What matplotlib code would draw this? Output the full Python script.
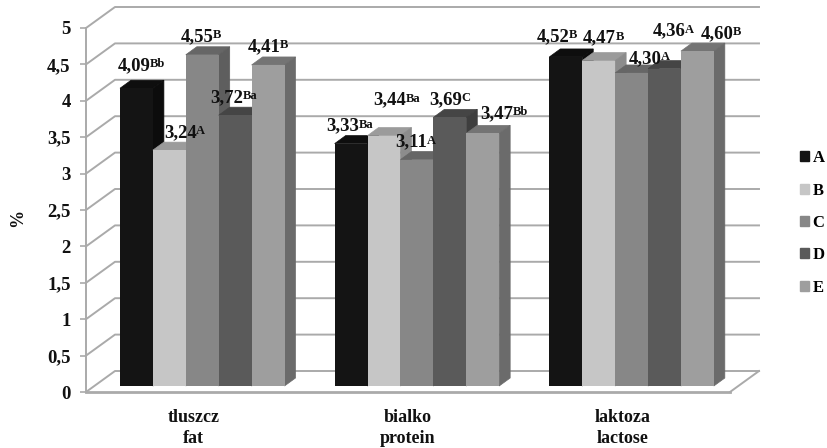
import matplotlib
matplotlib.use('Agg')
import matplotlib.pyplot as plt
from matplotlib.patches import Patch

plt.rcParams['font.family'] = ['Liberation Serif', 'DejaVu Serif']
plt.rcParams['font.weight'] = 'bold'

######################################################
# Data
categories = ['tluszcz\nfat', 'bialko\nprotein', 'laktoza\nlactose']
groups = ['A', 'B', 'C', 'D', 'E']
values_a = [4.09, 3.33, 4.52]
values_b = [3.24, 3.44, 4.47]
values_c = [4.55, 3.11, 4.30]
values_d = [3.72, 3.69, 4.36]
values_e = [4.41, 3.47, 4.60]
marks_a = ['Bb', 'Ba', 'B']
marks_b = ['A', 'Ba', 'B']
marks_c = ['B', 'A', 'A']
marks_d = ['Ba', 'C', 'A']
marks_e = ['B', 'Bb', 'B']
yticks = [0, 0.5, 1, 1.5, 2, 2.5, 3, 3.5, 4, 4.5, 5]
ytick_labels = ['0', '0,5', '1', '1,5', '2', '2,5', '3', '3,5', '4', '4,5', '5']

series = [values_a, values_b, values_c, values_d, values_e]
marks = [marks_a, marks_b, marks_c, marks_d, marks_e]

# colours per series: front, top, side
front = ['#141414', '#c6c6c6', '#878787', '#5a5a5a', '#9e9e9e']
top = ['#0e0e0e', '#9b9b9b', '#666666', '#454545', '#747474']
side = ['#0c0c0c', '#8c8c8c', '#5e5e5e', '#3e3e3e', '#6b6b6b']
grid_col = '#aaaaaa'

# label shifts in pixels from the top left corner of each bar: (right, up)
label_shift = [
    [(-2, 18), (-8, 13), (-13, 16)],
    [(11, 13), (6, 31), (1, 18)],
    [(-5, 14), (-5, 13), (14, 10)],
    [(-8, 13), (-4, 13), (5, 33)],
    [(-4, 14), (14, 15), (20, 13)],
]

W, H = 827, 448
fig = plt.figure(figsize=(W / 100, H / 100), dpi=100)
ax = fig.add_axes([86 / W, (H - 392) / H, 644 / W, 364 / H])
ax.set_xlim(0, 3)
ax.set_ylim(0, 5)

# pixel sizes in data units
px_x = 3 / 644
px_y = 5 / 364

######################################################
# Walls and floor
wall_dx = 29 * px_x
wall_dy = 21 * px_y
for t in yticks:
    ax.plot([0, wall_dx, 3 + wall_dx], [t, t + wall_dy, t + wall_dy],
            color=grid_col, lw=1.4, clip_on=False, zorder=1)
ax.plot([3, 3 + wall_dx], [0, wall_dy], color=grid_col, lw=1.4, clip_on=False, zorder=1)

######################################################
# Bars, each one a front face with a top and a side
bar_w = 32.9 * px_x
start = 34 * px_x
floor = 6 * px_y
depth_x = 11 * px_x
depth_y = 8 * px_y

for i, vals in enumerate(series):
    for c, v in enumerate(vals):
        x0 = c + start + i * bar_w
        x1 = x0 + bar_w
        y1 = floor + v
        z = 3 + i
        # thin edge of the same colour closes the gaps between faces
        ax.fill([x0, x1, x1 + depth_x, x0 + depth_x], [y1, y1, y1 + depth_y, y1 + depth_y],
                fc=top[i], ec=top[i], lw=0.5, clip_on=False, zorder=z)
        ax.fill([x1, x1 + depth_x, x1 + depth_x, x1], [floor, floor + depth_y, y1 + depth_y, y1],
                fc=side[i], ec=side[i], lw=0.5, clip_on=False, zorder=z)
        ax.bar(x0, v, width=bar_w, bottom=floor, align='edge', color=front[i], lw=0,
               clip_on=False, zorder=z)

# Labels go on top of all the bars
for i, vals in enumerate(series):
    for c, v in enumerate(vals):
        x0 = c + start + i * bar_w
        dx, dy = label_shift[i][c]
        main = ax.text(x0 + dx * px_x, floor + v + dy * px_y, f'{v:.2f}'.replace('.', ','),
                       fontsize=13.5, ha='left', va='baseline', color='#111111', zorder=20,
                       clip_on=False)
        ax.annotate(marks[i][c], xy=(1, 0), xycoords=main, xytext=(-0.5, 5),
                    textcoords='offset points', fontsize=9, ha='left', va='baseline',
                    color='#111111', zorder=20)

######################################################
# Axes
for name in ['top', 'right']:
    ax.spines[name].set_visible(False)
ax.spines['left'].set_color(grid_col)
ax.spines['left'].set_linewidth(1.4)
ax.spines['bottom'].set_color(grid_col)
ax.spines['bottom'].set_linewidth(2)
ax.set_yticks(yticks)
ax.set_yticklabels(ytick_labels, fontsize=13.5, color='#111111')
ax.set_xticks([0.5 + c for c in range(3)])
ax.set_xticklabels(categories, fontsize=13, color='#111111', linespacing=1.35)
ax.tick_params(axis='y', length=4, width=1.2, color=grid_col, pad=7)
ax.tick_params(axis='x', length=0, pad=12)
ax.set_ylabel('%', fontsize=13, color='#111111', fontweight='bold')
ax.yaxis.set_label_coords(-60 / 644, 174 / 364)
ax.patch.set_alpha(0)

handles = [Patch(color=front[i], label=groups[i]) for i in range(5)]
ax.legend(handles=handles, loc='center left', bbox_to_anchor=(800 / W, (H - 223) / H),
          bbox_transform=fig.transFigure, frameon=False, fontsize=12, handlelength=0.55,
          handleheight=0.55, handletextpad=0.2, labelspacing=0.98, borderpad=0, borderaxespad=0)

fig.savefig('out.png', dpi=100)
